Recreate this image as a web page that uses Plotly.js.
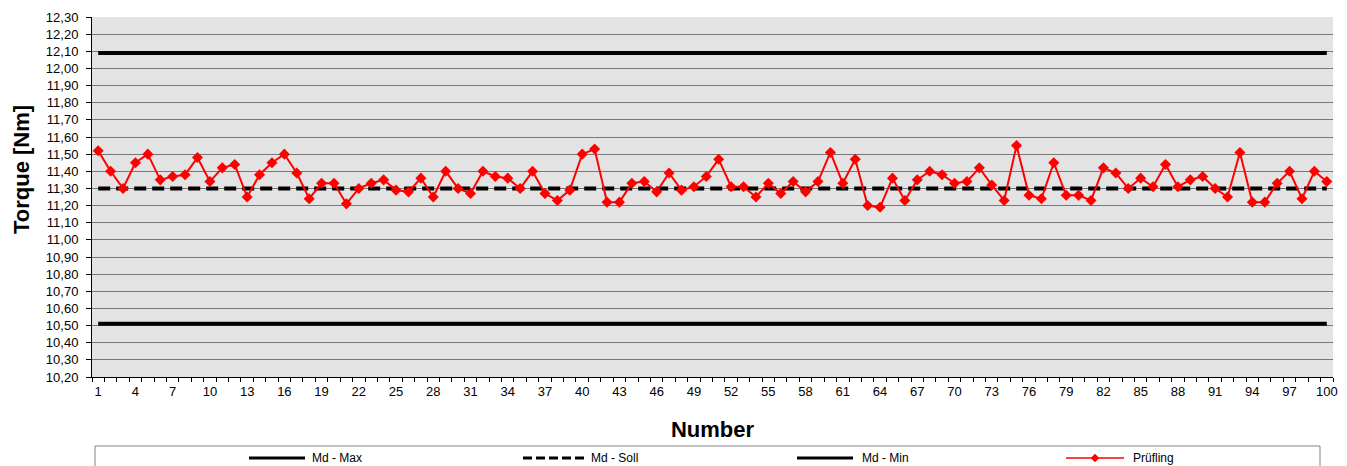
<!DOCTYPE html>
<html>
<head>
<meta charset="utf-8">
<script src="https://cdn.plot.ly/plotly-3.0.1.min.js"></script>
<style>
  html, body { margin: 0; padding: 0; background: #ffffff; }
  #chart { width: 1347px; height: 466px; }
</style>
</head>
<body>
<div id="chart"></div>
<script>
// ---- data ----
const numbers = [];
for (let i = 1; i <= 100; i++) numbers.push(i);

const pruefling = [
  11.52, 11.40, 11.30, 11.45, 11.50, 11.35, 11.37, 11.38, 11.48, 11.34,
  11.42, 11.44, 11.25, 11.38, 11.45, 11.50, 11.39, 11.24, 11.33, 11.33,
  11.21, 11.30, 11.33, 11.35, 11.29, 11.28, 11.36, 11.25, 11.40, 11.30,
  11.27, 11.40, 11.37, 11.36, 11.30, 11.40, 11.27, 11.23, 11.29, 11.50,
  11.53, 11.22, 11.22, 11.33, 11.34, 11.28, 11.39, 11.29, 11.31, 11.37,
  11.47, 11.31, 11.31, 11.25, 11.33, 11.27, 11.34, 11.28, 11.34, 11.51,
  11.33, 11.47, 11.20, 11.19, 11.36, 11.23, 11.35, 11.40, 11.38, 11.33,
  11.34, 11.42, 11.32, 11.23, 11.55, 11.26, 11.24, 11.45, 11.26, 11.26,
  11.23, 11.42, 11.39, 11.30, 11.36, 11.31, 11.44, 11.31, 11.35, 11.37,
  11.30, 11.25, 11.51, 11.22, 11.22, 11.33, 11.40, 11.24, 11.40, 11.34
];

const mdMaxValue = 12.09;
const mdSollValue = 11.30;
const mdMinValue = 10.51;

const xTickValues = [1,4,7,10,13,16,19,22,25,28,31,34,37,40,43,46,49,52,55,58,61,64,67,70,73,76,79,82,85,88,91,94,97,100];
const xTickLabels = ["1","4","7","10","13","16","19","22","25","28","31","34","37","40","43","46","49","52","55","58","61","64","67","70","73","76","79","82","85","88","91","94","97","100"];

const seriesNames = ["Md - Max", "Md - Soll", "Md - Min", "Prüfling"];

// ---- build traces ----
const mdMax = numbers.map(() => mdMaxValue);
const mdSoll = numbers.map(() => mdSollValue);
const mdMin = numbers.map(() => mdMinValue);
const boundaries = [];
for (let i = 0; i <= numbers.length; i++) boundaries.push(i + 0.5);

const FONT = "Liberation Sans, Arial, sans-serif";

const traces = [
  { x: numbers, y: mdMax, name: seriesNames[0], type: "scatter", mode: "lines",
    line: { color: "#000000", width: 4 }, hoverinfo: "skip" },
  { x: numbers, y: mdSoll, name: seriesNames[1], type: "scatter", mode: "lines",
    line: { color: "#000000", width: 4, dash: "12px,6px" }, hoverinfo: "skip" },
  { x: numbers, y: mdMin, name: seriesNames[2], type: "scatter", mode: "lines",
    line: { color: "#000000", width: 4 }, hoverinfo: "skip" },
  { x: numbers, y: pruefling, name: seriesNames[3], type: "scatter", mode: "lines+markers",
    line: { color: "#ff0000", width: 2 },
    marker: { symbol: "diamond", size: 8.5, color: "#ff0000" } }
];

// ---- layout helpers (pixel -> paper) ----
const L = 92, R = 14, T = 17, B = 89, W = 1347, H = 466;
const pw = W - L - R, ph = H - T - B;
const px = v => (v - L) / pw;
const py = v => (H - B - v) / ph;

const legendY = 458;
const legendItems = [
  { x0: 249, x1: 305, tx: 310, dash: "solid", color: "#000000", width: 3, marker: false },
  { x0: 523, x1: 585, tx: 589, dash: "9px,4px", color: "#000000", width: 3, marker: false },
  { x0: 797, x1: 853, tx: 860, dash: "solid", color: "#000000", width: 3, marker: false },
  { x0: 1066, x1: 1124, tx: 1131, dash: "solid", color: "#ff0000", width: 1.5, marker: true }
];

const shapes = [
  { type: "rect", xref: "paper", yref: "paper",
    x0: px(95), x1: px(1320), y0: py(446), y1: py(500),
    line: { color: "#808080", width: 1 }, fillcolor: "rgba(0,0,0,0)" }
];
const annotations = [
  { xref: "paper", yref: "paper", x: px(21), y: py(170), text: "<b>Torque [Nm]</b>",
    textangle: -90, showarrow: false, font: { family: FONT, size: 22, color: "#000000" },
    xanchor: "center", yanchor: "middle" }
];
legendItems.forEach((it, i) => {
  shapes.push({ type: "line", xref: "paper", yref: "paper",
    x0: px(it.x0), x1: px(it.x1), y0: py(legendY), y1: py(legendY),
    line: { color: it.color, width: it.width, dash: it.dash } });
  if (it.marker) {
    shapes.push({ type: "path", xref: "paper", yref: "paper",
      xsizemode: "pixel", ysizemode: "pixel",
      xanchor: px((it.x0 + it.x1) / 2), yanchor: py(legendY),
      path: "M0,4 L4,0 L0,-4 L-4,0 Z",
      fillcolor: "#ff0000", line: { color: "#ff0000", width: 0.5 } });
  }
  annotations.push({ xref: "paper", yref: "paper", x: px(it.tx), y: py(legendY),
    text: seriesNames[i], showarrow: false, xanchor: "left", yanchor: "middle",
    font: { family: FONT, size: 12, color: "#000000" } });
});

const layout = {
  width: W, height: H,
  margin: { l: L, r: R, t: T, b: B, pad: 0 },
  paper_bgcolor: "#ffffff",
  plot_bgcolor: "#e3e3e3",
  separators: ",.",
  showlegend: false,
  font: { family: FONT, size: 13, color: "#000000" },
  xaxis: {
    range: [0.5, 100.5],
    tickmode: "array", tickvals: xTickValues, ticktext: xTickLabels,
    ticks: "", showgrid: false, zeroline: false,
    showline: true, linecolor: "#000000", linewidth: 1,
    tickfont: { family: FONT, size: 13, color: "#000000" },
    ticklabelstandoff: 2,
    minor: { tickmode: "array", tickvals: boundaries, ticks: "outside", ticklen: 4,
             tickcolor: "#000000", tickwidth: 1, showgrid: false },
    title: { text: "<b>Number</b>", font: { family: FONT, size: 22, color: "#000000" }, standoff: 24 },
    automargin: false, fixedrange: true
  },
  yaxis: {
    range: [10.2, 12.3],
    tickmode: "linear", tick0: 10.2, dtick: 0.1, tickformat: ".2f",
    ticks: "outside", ticklen: 5, tickcolor: "#000000", tickwidth: 1,
    ticklabelstandoff: 5,
    showgrid: true, gridcolor: "#777777", gridwidth: 1, zeroline: false,
    showline: true, linecolor: "#000000", linewidth: 1,
    tickfont: { family: FONT, size: 13, color: "#000000" },
    automargin: false, fixedrange: true
  },
  shapes: shapes,
  annotations: annotations
};

Plotly.newPlot("chart", traces, layout, { displayModeBar: false, staticPlot: true });
</script>
</body>
</html>
